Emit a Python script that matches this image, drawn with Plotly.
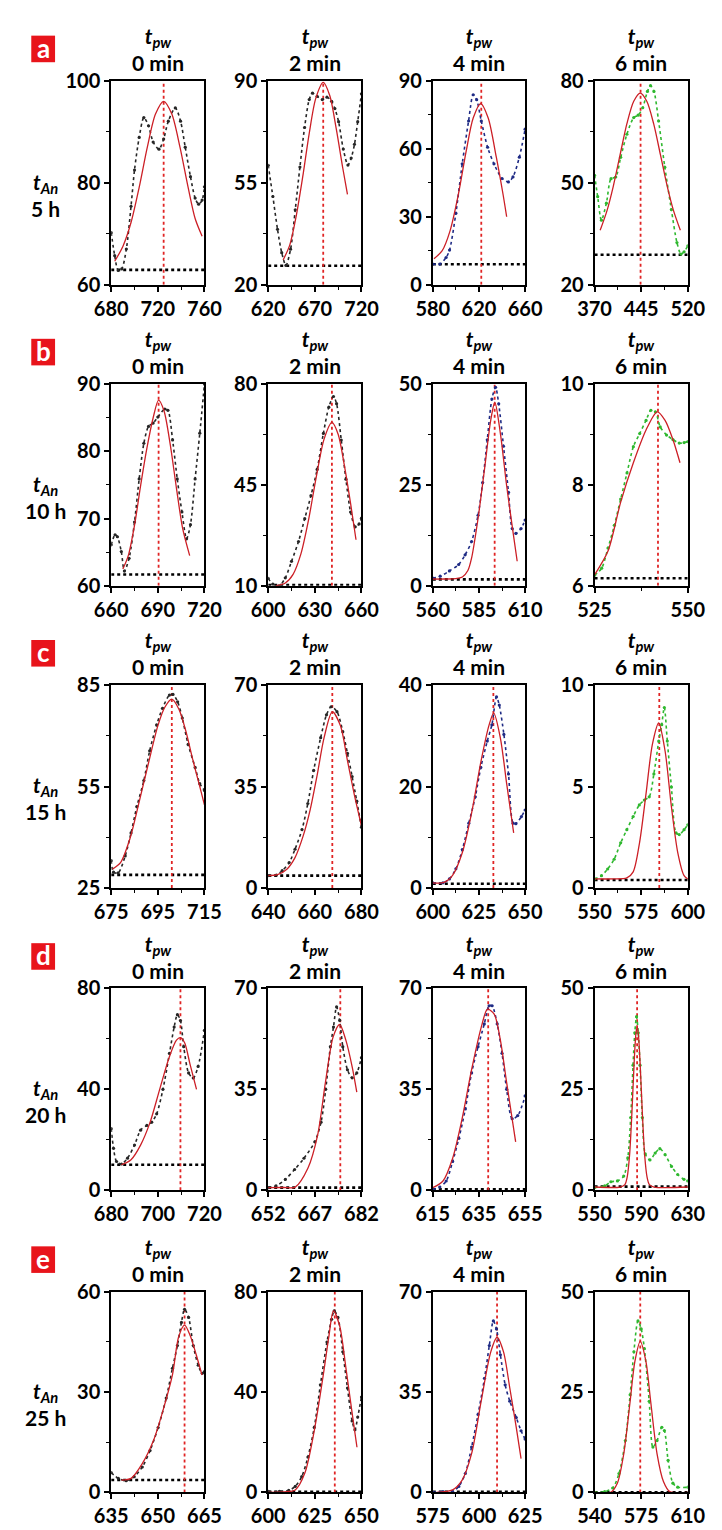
import plotly.graph_objects as go

W, H = 722, 1530
col_left = [99, 264, 437, 607]
col_right = [197, 362, 534, 705]
row_top = [69, 377, 683, 991, 1299]
row_bottom = [276, 582, 889, 1196, 1503]

row_letters = ['a', 'b', 'c', 'd', 'e']
t_an_labels = ['5 h', '10 h', '15 h', '20 h', '25 h']
t_pw_labels = ['0 min', '2 min', '4 min', '6 min']
series_colors = ['#262626', '#262626', '#1f2b85', '#2fb82f']
FIT_COLOR = '#cc1f26'
PEAK_COLOR = '#e02424'
FONT = 'Lato'

# ---------------- row a (t_An = 5 h) ----------------
a1_x = [680, 683, 686, 689, 693, 697, 700, 704, 708, 712, 716, 721, 725, 729, 735, 739.5, 743.5, 748, 752, 755, 758, 760]
a1_y = [70.2, 65.7, 62.8, 63.1, 67, 75.4, 82.5, 88.9, 92.8, 91.2, 88, 86.6, 88.6, 92.1, 94.7, 92.1, 87, 81.2, 77, 75.8, 76.6, 79.2]
a1_fit_x = [683, 690, 697, 704, 711, 718, 725, 732, 739, 746, 752, 758]
a1_fit_y = [64.6, 67.5, 72.2, 79.1, 87.0, 93.5, 96.0, 93.5, 87.0, 79.1, 73.0, 69.5]

a2_x = [620, 625, 630, 634.5, 639, 644, 649, 654, 659, 664, 667.5, 672.5, 678, 683, 688, 691.5, 695.5, 700.5, 705.5, 709, 712.5, 716, 720]
a2_y = [61, 50.3, 39, 31, 26.6, 32.2, 45.7, 60.4, 74, 83.6, 85.8, 84.7, 83.6, 84.4, 83, 80.5, 76, 66.6, 61.1, 63.5, 68.2, 76, 85.6]
a2_fit_x = [636, 643, 650, 657, 664, 671, 679, 686, 693, 700, 705]
a2_fit_y = [28.5, 33.5, 43.5, 57, 72, 84, 89.5, 85, 73.5, 60, 51]

a3_x = [580, 586, 591.5, 594.5, 600, 605.5, 611, 615, 618, 622, 627.5, 633, 640, 645.5, 649.5, 655, 660]
a3_y = [9.1, 9.1, 12, 15.3, 31.6, 53.4, 72.3, 83.9, 81.7, 72.3, 60.7, 53.4, 46.9, 45.4, 47.6, 56.3, 68.7]
a3_fit_x = [581, 588, 595, 602, 609, 615, 621.5, 628, 635, 641, 644]
a3_fit_y = [11.5, 14.9, 23.9, 39.5, 59.2, 73.6, 80, 73.6, 56.4, 39.5, 30]

a4_x = [370, 375, 381, 389, 396.5, 404, 412, 422, 433, 440, 447.5, 455, 460, 465.5, 473, 483, 493.5, 502.5, 509, 514, 520]
a4_y = [52.2, 45.9, 39, 44, 51.2, 51.7, 57.5, 64.3, 69.2, 69.9, 72.1, 76.9, 78.6, 76.9, 68.2, 54.6, 42.1, 32.4, 29, 29.7, 31.4]
a4_fit_x = [379, 390, 400, 411, 422, 433, 443.5, 454, 465, 476, 487, 497, 508]
a4_fit_y = [36.0, 41.8, 48.9, 58.2, 67.4, 74.0, 76.4, 74.0, 67.4, 58.2, 48.9, 41.8, 36.0]

# ---------------- row b (t_An = 10 h) ----------------
b1_x = [660, 662.5, 664, 666.5, 668.5, 671.5, 675, 678, 681, 684, 687, 690, 694.5, 696.5, 699.5, 702.5, 705.5, 708.5, 711, 714, 717, 720]
b1_y = [66.1, 67.6, 67.3, 65.1, 62.2, 64.1, 69.5, 75.9, 81.2, 83.7, 84.2, 85.1, 86.3, 86.1, 81.7, 75.9, 71, 67, 69.1, 75.9, 82.7, 90]
b1_fit_x = [667.5, 671, 675, 679, 683, 687, 690.5, 694, 698, 702, 706, 710.5]
b1_fit_y = [62.5, 64.5, 69, 75, 80.5, 85, 87.6, 86, 81, 74.5, 68.5, 64.5]

b2_x = [600, 603, 607, 611, 615, 619.5, 623.5, 627.5, 631.5, 635.5, 639, 642, 644, 647, 650, 653, 656, 658.5, 660]
b2_y = [12.6, 10.6, 10, 12.8, 18.5, 25.4, 33.3, 41.3, 50.4, 62.9, 72, 75.7, 73.2, 60.6, 47, 35.6, 30.5, 31.5, 33.5]
b2_fit_x = [605, 611, 616, 621, 626, 631, 636, 641, 645, 649, 653, 656.5]
b2_fit_y = [10.1, 11.0, 14.0, 21.0, 33.0, 48.0, 61.0, 66.7, 62.6, 51.8, 38.6, 26]

b3_x = [560, 564, 569, 574, 577.5, 581, 584.5, 587, 589.5, 592, 594, 595.7, 598.3, 601, 603, 605, 607.8, 610]
b3_y = [1.9, 2.4, 3.7, 5.3, 7.7, 11, 17.5, 25.6, 36.2, 46.3, 49.2, 45.1, 34.6, 23.2, 14.2, 13, 14.2, 16.3]
b3_fit_x = [560, 566, 572, 576, 579, 581, 584.5, 588, 591.4, 593.6, 596.6, 600, 603.4, 605.7]
b3_fit_y = [1.7, 1.7, 1.8, 2.2, 3.8, 6.9, 16.7, 28.9, 41.1, 45.5, 37.8, 24.8, 13.5, 6.1]

b4_x = [525, 526.9, 528.6, 530.3, 532, 533.7, 535.4, 537.1, 538.8, 540.1, 541.3, 542.6, 544.3, 546, 547.7, 549, 550]
b4_y = [6.21, 6.35, 6.75, 7.2, 7.72, 8.24, 8.76, 9.02, 9.28, 9.48, 9.45, 9.15, 8.99, 8.9, 8.83, 8.84, 8.86]
b4_fit_x = [525, 528.6, 532, 535.4, 538.8, 541.8, 543.9, 546, 547.9]
b4_fit_y = [6.22, 6.69, 7.66, 8.44, 9.09, 9.45, 9.28, 8.9, 8.44]

# ---------------- row c (t_An = 15 h) ----------------
c1_x = [675, 676, 678, 681, 683.5, 686, 689, 691.5, 694.5, 697, 700, 701.5, 703.5, 705.5, 708, 711, 713, 715]
c1_y = [33.1, 29.7, 29.5, 34.5, 41.3, 49.1, 56.8, 65.6, 73.3, 78.2, 82.1, 82.3, 80.1, 75.3, 67.5, 60.7, 55.9, 53.9]
c1_fit_x = [675.5, 679, 683, 687, 691, 695, 698, 701, 704, 707, 710, 713, 715]
c1_fit_y = [30.6, 32.5, 39.5, 50.5, 62, 73, 78.5, 80.9, 78, 71.5, 63, 55, 49.6]

c2_x = [640, 643.5, 646, 649, 651.5, 654.5, 657, 659.5, 662.5, 665, 667, 669.5, 672, 674, 676, 678, 680]
c2_y = [4.3, 4.5, 6, 8.8, 13.4, 20.2, 29.2, 40.6, 51.9, 59.8, 62.6, 60.9, 54, 46.5, 38.5, 30, 21]
c2_fit_x = [640, 644, 648, 651.5, 655, 658, 661, 664, 667.5, 671, 674, 677, 680]
c2_fit_y = [4.3, 4.6, 6.5, 10.5, 18, 27, 39, 52, 60.9, 56, 44, 32, 21.5]

c3_x = [600, 605.5, 609, 612.5, 616, 619.5, 623, 626, 629.5, 632, 634.5, 636, 638.5, 641, 643.5, 645, 648, 650]
c3_y = [1.04, 1.04, 1.8, 3.8, 7.6, 12.8, 18, 23.8, 29, 32.2, 37.7, 36.1, 30.3, 22.5, 12.8, 12.7, 14.1, 15.4]
c3_fit_x = [600, 606, 610.7, 616, 621, 626.2, 630.5, 633, 636.6, 640, 643.8]
c3_fit_y = [1.04, 1.1, 2.5, 7, 14.8, 25.2, 32.2, 34.5, 29.6, 20.6, 10.9]

c4_x = [550, 553.7, 557, 560.5, 564, 567.3, 570.7, 574, 576.7, 579.3, 581.8, 584.4, 586, 587.4, 589, 591.2, 593.7, 595.4, 598, 600]
c4_y = [0.45, 0.61, 0.94, 1.42, 2.23, 2.88, 3.53, 4.1, 4.34, 4.5, 5.63, 7.25, 8.06, 8.9, 7.25, 4.98, 2.72, 2.64, 2.88, 3.12]
c4_fit_x = [550, 560, 567.3, 570.7, 574.1, 577.6, 581, 584.4, 587.8, 591.2, 594.6, 598, 600]
c4_fit_y = [0.45, 0.45, 0.5, 0.8, 2.23, 4.66, 7.09, 8.14, 6.76, 4.01, 1.75, 0.61, 0.45]

# ---------------- row d (t_An = 20 h) ----------------
d1_x = [680, 681, 682.3, 684.4, 687, 690, 692.6, 695.3, 697.4, 699.5, 702.2, 705, 707, 708.4, 709.7, 711.1, 713.2, 715.2, 717.3, 720]
d1_y = [24.4, 16.6, 11.4, 10.4, 12.7, 17.9, 23.8, 25.7, 27, 30.3, 40, 54.3, 64.7, 69.6, 67.3, 56.9, 46.5, 44.5, 49.1, 63.4]
d1_fit_x = [684.4, 688.5, 692.6, 696.7, 700.8, 705, 708, 709.7, 711.5, 713.8, 716.6]
d1_fit_y = [10.1, 12.1, 17.9, 27, 40, 53, 59.5, 60.5, 58.5, 50, 40]

d2_x = [652, 654.5, 657.5, 660.5, 663.5, 667, 669, 670.5, 672, 673, 674, 675, 676, 677.5, 679, 680.5, 682]
d2_y = [0.9, 1.5, 3.75, 7.2, 11.1, 16.8, 23.6, 35, 49.8, 56.6, 63.6, 58.9, 49.8, 41.8, 39, 40.7, 46]
d2_fit_x = [652, 657, 660.7, 664.8, 667.9, 670.4, 672.9, 675, 677, 679, 680.5]
d2_fit_y = [0.9, 0.95, 1.1, 7.7, 19.1, 37.3, 53.2, 57.5, 52, 42.9, 34]

d3_x = [615, 618, 620.8, 623.6, 626.3, 629.1, 631.8, 634.6, 637.3, 639.4, 640.7, 642.9, 645, 647, 649.4, 651.8, 655]
d3_y = [0.3, 1.1, 3.2, 10, 18, 28.2, 40.7, 49.8, 57.7, 64, 64, 57.7, 47.5, 35, 24.8, 25.9, 32.7]
d3_fit_x = [615, 619.4, 623.6, 627.7, 631.8, 636, 638.7, 641.6, 644.3, 647, 650.9]
d3_fit_y = [0.9, 3.2, 11.1, 24.8, 41.8, 56.6, 62.8, 61.1, 52, 37.3, 16.8]

d4_x = [550, 558.7, 564, 569.6, 575, 578.5, 581, 583, 584.5, 586, 587.5, 589, 591, 593.5, 597.5, 602, 606, 610.5, 616, 621.3, 626.7, 630]
d4_y = [0.65, 1.06, 2.1, 2.3, 3.5, 8, 18, 31, 39, 43, 39, 31, 18, 9, 7.5, 9.2, 10.3, 8.8, 5.9, 3.9, 2.7, 2.3]
d4_fit_x = [550, 572, 576, 578, 580, 582, 584, 585.5, 586.5, 587.5, 589, 591, 593, 595, 597, 601, 630]
d4_fit_y = [0.8, 0.8, 1.4, 3.3, 8.6, 19, 31.9, 38.9, 40.4, 38.9, 31.9, 19, 8.6, 3.3, 1.4, 0.8, 0.8]

# ---------------- row e (t_An = 25 h) ----------------
e1_x = [635, 637.3, 639.8, 642.4, 645, 647.5, 650.1, 652.7, 654.7, 656.3, 657.6, 658.6, 659.9, 661.4, 663, 664.3, 665]
e1_y = [5.9, 4.2, 3.5, 4.7, 7.6, 12.5, 19.4, 28.2, 37.1, 43.9, 50.8, 54.7, 52.3, 43.9, 38, 35.6, 36.1]
e1_fit_x = [638.3, 641.4, 645, 648.6, 651.6, 654.7, 656.7, 658.6, 660.4, 662.4, 664.2]
e1_fit_y = [3.7, 4.2, 8.6, 15.5, 24.3, 35.1, 46.5, 50, 46.9, 41, 35.1]

e2_x = [600, 606, 611, 614.5, 618, 621.3, 624.7, 628, 631.5, 634, 635.4, 637.4, 640, 642.5, 645, 646.5, 648, 650]
e2_y = [0.4, 0.4, 0.8, 2.4, 6.3, 14.1, 25.9, 42.9, 59.9, 69, 72.3, 69.7, 56, 41.6, 28.5, 25, 30, 38]
e2_fit_x = [600, 610, 614.5, 619.6, 624.7, 629.8, 632.5, 635, 638.3, 641.7, 645.1, 647.6]
e2_fit_y = [0, 0.3, 1, 7.6, 24.6, 48.1, 62, 72.3, 66.4, 49.4, 31.1, 18]

e3_x = [575, 580.5, 585.7, 589.1, 592.6, 596, 599.5, 603, 605.6, 607.8, 609.5, 611.6, 614.2, 616.7, 620.2, 622.8, 625]
e3_y = [0, 0.3, 0.3, 2.1, 6.6, 15.8, 27.2, 39.8, 51.2, 59.8, 57, 48, 37.5, 31.8, 26.1, 21.5, 18.6]
e3_fit_x = [577, 585.7, 590.9, 596, 601.2, 606.4, 609.8, 613.3, 616.7, 620.2, 622.8]
e3_fit_y = [0, 0.9, 4.3, 13.5, 31.8, 49, 54.1, 49, 36.4, 22.7, 11.8]

e4_x = [540, 547.6, 553.6, 558.3, 563.1, 566.7, 569.5, 572.6, 575, 577.4, 581, 583.8, 586.9, 590.5, 592.4, 595.2, 598.8, 602.4, 610]
e4_y = [0, 0.2, 1.1, 4.7, 12.9, 24.3, 35, 42.7, 40.7, 35.8, 22.7, 11.3, 12.9, 16.2, 15.4, 8, 2.3, 1.3, 1.3]
e4_fit_x = [540, 552, 557.1, 561.9, 566.7, 570.2, 574.3, 578.6, 582.1, 586.9, 591.7, 596.4, 610]
e4_fit_y = [0, 0, 2.3, 9.6, 22.7, 32.5, 37.6, 32.5, 22.7, 9.6, 2.7, 0.2, 0]

# peak centres (red dotted verticals) and baselines (black dotted)
peak_centers = [725, 679, 622, 444,
                690.5, 641, 593.5, 542,
                701, 667.5, 632.8, 584.7,
                709.7, 675.2, 639, 586.5,
                658.6, 635.7, 609.8, 574.3]
baselines = [62.9, 26.5, 9.0, 28.8,
             61.7, 10.3, 1.6, 6.15,
             28.9, 4.3, 0.84, 0.4,
             10.1, 0.9, 0.3, 0.9,
             3.7, 0.2, 0.2, 0.0]

# axis ticks (first and last define range)
x_ticks = [[680, 720, 760], [620, 670, 720], [580, 620, 660], [370, 445, 520],
           [660, 690, 720], [600, 630, 660], [560, 585, 610], [525, 550],
           [675, 695, 715], [640, 660, 680], [600, 625, 650], [550, 575, 600],
           [680, 700, 720], [652, 667, 682], [615, 635, 655], [550, 590, 630],
           [635, 650, 665], [600, 625, 650], [575, 600, 625], [540, 575, 610]]
y_ticks = [[60, 80, 100], [20, 55, 90], [0, 30, 60, 90], [20, 50, 80],
           [60, 70, 80, 90], [10, 45, 80], [0, 25, 50], [6, 8, 10],
           [25, 55, 85], [0, 35, 70], [0, 20, 40], [0, 5, 10],
           [0, 40, 80], [0, 35, 70], [0, 35, 70], [0, 25, 50],
           [0, 30, 60], [0, 40, 80], [0, 35, 70], [0, 25, 50]]

data_series = [(a1_x, a1_y, a1_fit_x, a1_fit_y), (a2_x, a2_y, a2_fit_x, a2_fit_y),
               (a3_x, a3_y, a3_fit_x, a3_fit_y), (a4_x, a4_y, a4_fit_x, a4_fit_y),
               (b1_x, b1_y, b1_fit_x, b1_fit_y), (b2_x, b2_y, b2_fit_x, b2_fit_y),
               (b3_x, b3_y, b3_fit_x, b3_fit_y), (b4_x, b4_y, b4_fit_x, b4_fit_y),
               (c1_x, c1_y, c1_fit_x, c1_fit_y), (c2_x, c2_y, c2_fit_x, c2_fit_y),
               (c3_x, c3_y, c3_fit_x, c3_fit_y), (c4_x, c4_y, c4_fit_x, c4_fit_y),
               (d1_x, d1_y, d1_fit_x, d1_fit_y), (d2_x, d2_y, d2_fit_x, d2_fit_y),
               (d3_x, d3_y, d3_fit_x, d3_fit_y), (d4_x, d4_y, d4_fit_x, d4_fit_y),
               (e1_x, e1_y, e1_fit_x, e1_fit_y), (e2_x, e2_y, e2_fit_x, e2_fit_y),
               (e3_x, e3_y, e3_fit_x, e3_fit_y), (e4_x, e4_y, e4_fit_x, e4_fit_y)]


def px_x(v):
    return v / W


def px_y(v):
    return 1 - v / H


def midpoints(t):
    return [(t[k] + t[k + 1]) / 2 for k in range(len(t) - 1)]


fig = go.Figure()
layout_axes = {}
tick_font = dict(family=FONT, size=20, color='black', weight='bold')

for i, (dx, dy, fx, fy) in enumerate(data_series):
    r, c = divmod(i, 4)
    n = i + 1
    xref = 'x' if n == 1 else f'x{n}'
    yref = 'y' if n == 1 else f'y{n}'
    xt, yt = x_ticks[i], y_ticks[i]
    xr = [xt[0], xt[-1]]
    yr = [yt[0], yt[-1]]
    common = dict(showline=True, linecolor='black', linewidth=1.8, mirror=True,
                  ticks='outside', ticklen=5, tickwidth=1.6, tickcolor='black',
                  tickfont=tick_font, showgrid=False, zeroline=False,
                  tickmode='array', fixedrange=True)
    layout_axes['xaxis' if n == 1 else f'xaxis{n}'] = dict(
        domain=[px_x(col_left[c]), px_x(col_right[c])], range=xr,
        tickvals=xt, ticktext=[str(v) for v in xt], anchor=yref,
        minor=dict(tickmode='array', tickvals=midpoints(xt), ticks='outside',
                   ticklen=3, tickwidth=1.2, tickcolor='black'),
        **common)
    layout_axes['yaxis' if n == 1 else f'yaxis{n}'] = dict(
        domain=[px_y(row_bottom[r]), px_y(row_top[r])], range=yr,
        tickvals=yt, ticktext=[str(v) for v in yt], anchor=xref,
        minor=dict(tickmode='array', tickvals=midpoints(yt), ticks='outside',
                   ticklen=3, tickwidth=1.2, tickcolor='black'),
        **common)

    # baseline
    fig.add_trace(go.Scatter(x=xr, y=[baselines[i], baselines[i]], xaxis=xref, yaxis=yref,
                             mode='lines', line=dict(color='black', width=2.6, dash='dot'),
                             hoverinfo='skip'))
    # peak centre line
    fig.add_trace(go.Scatter(x=[peak_centers[i], peak_centers[i]], y=yr, xaxis=xref, yaxis=yref,
                             mode='lines', line=dict(color=PEAK_COLOR, width=1.8, dash='dot'),
                             hoverinfo='skip'))
    # measured data
    col = series_colors[c]
    fig.add_trace(go.Scatter(x=dx, y=dy, xaxis=xref, yaxis=yref, mode='lines+markers',
                             line=dict(color=col, width=1.6, dash='dot', shape='spline', smoothing=0.8),
                             marker=dict(size=3.2, color=col)))
    # gaussian fit
    fig.add_trace(go.Scatter(x=fx, y=fy, xaxis=xref, yaxis=yref, mode='lines',
                             line=dict(color=FIT_COLOR, width=1.3, shape='spline', smoothing=0.8)))

annotations = []
shapes = []
for r in range(5):
    top, bot = row_top[r], row_bottom[r]
    for c in range(4):
        cx = (col_left[c] + col_right[c]) / 2
        annotations.append(dict(x=px_x(cx), y=px_y(top - 4), xref='paper', yref='paper',
                                text='<b><i>t</i></b><sub><b><i>pw</i></b></sub><br><b>' + t_pw_labels[c] + '</b>',
                                showarrow=False, xanchor='center', yanchor='bottom', align='center',
                                font=dict(family=FONT, size=21, color='black')))
    mid = (top + bot) / 2
    annotations.append(dict(x=px_x(30), y=px_y(mid + 12), xref='paper', yref='paper',
                            text='<b><i>t</i></b><sub><b><i>An</i></b></sub><br><b>' + t_an_labels[r] + '</b>',
                            showarrow=False, xanchor='center', yanchor='middle', align='center',
                            font=dict(family=FONT, size=21, color='black')))
    shapes.append(dict(type='rect', xref='paper', yref='paper',
                       x0=px_x(15), x1=px_x(40), y0=px_y(top - 19), y1=px_y(top - 46),
                       fillcolor='#e8141b', line=dict(width=0)))
    annotations.append(dict(x=px_x(27.5), y=px_y(top - 33.5), xref='paper', yref='paper',
                            text=row_letters[r], showarrow=False,
                            xanchor='center', yanchor='middle',
                            font=dict(family=FONT, size=26, color='white', weight='bold')))

fig.update_layout(width=W, height=H, autosize=False,
                  margin=dict(l=0, r=0, t=0, b=0),
                  paper_bgcolor='white', plot_bgcolor='white',
                  showlegend=False, annotations=annotations, shapes=shapes,
                  **layout_axes)

fig.write_html('out.html')
